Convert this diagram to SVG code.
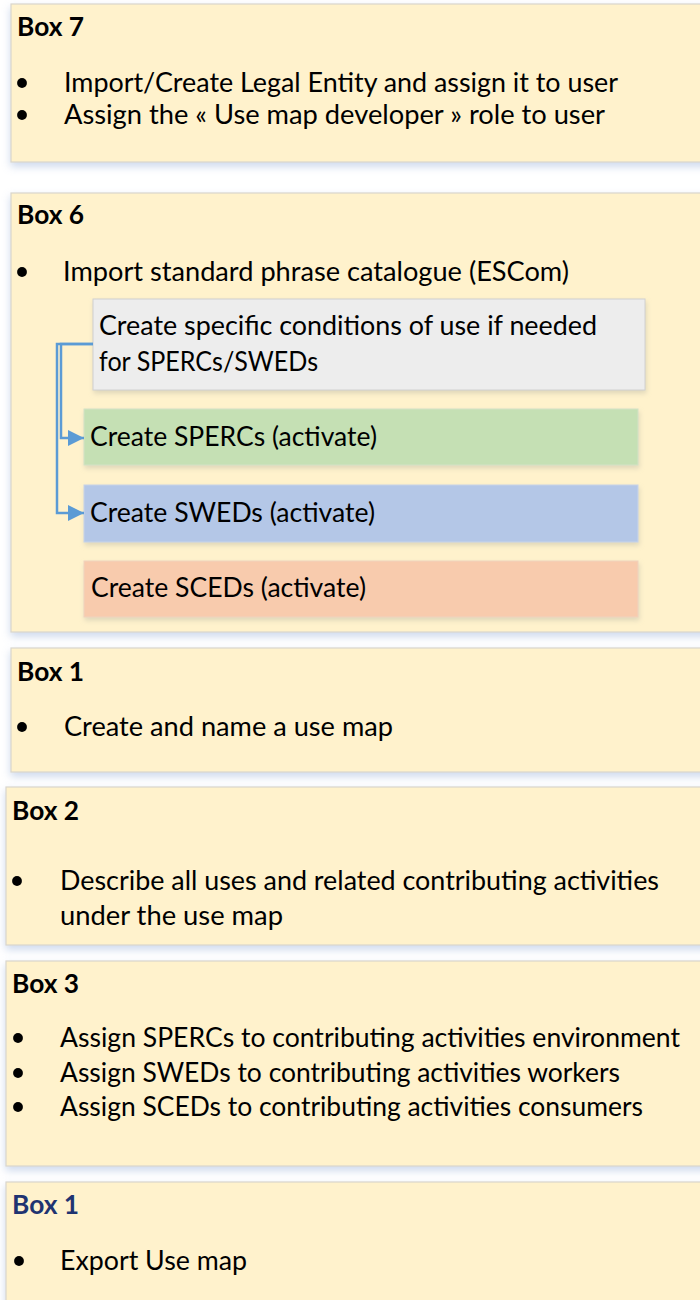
<svg xmlns="http://www.w3.org/2000/svg" width="700" height="1300" viewBox="0 0 700 1300">
  <style>
    .box { fill: #FFF2CC; stroke: #D9D6CC; stroke-width: 1.2; filter: url(#shadow); }
    .sub { stroke-width: 1; filter: url(#shadowS); }
    .lbl { font-family: Lato, "Liberation Sans", sans-serif; font-weight: bold; font-size: 26px; fill: #000; }
    .txt { font-family: Lato, "Liberation Sans", sans-serif; font-size: 26px; fill: #000; }
    .dot { fill: #000; }
    .conn { fill: none; stroke: #5B9BD5; stroke-width: 2.5; }
  </style>
  <defs>
    <filter id="shadow" x="-5%" y="-10%" width="110%" height="130%">
      <feDropShadow dx="0" dy="4" stdDeviation="4" flood-color="#8FA9D6" flood-opacity="0.45"/>
    </filter>
    <filter id="shadowS" x="-5%" y="-20%" width="110%" height="150%">
      <feDropShadow dx="1" dy="3" stdDeviation="2.5" flood-color="#B0B0A0" flood-opacity="0.4"/>
    </filter>
    <marker id="arr" markerUnits="userSpaceOnUse" viewBox="0 0 10 10" refX="10" refY="5" markerWidth="16" markerHeight="16" orient="auto">
      <path d="M0,0 L10,5 L0,10 z" fill="#5B9BD5"/>
    </marker>
  </defs>

  <rect width="700" height="1300" fill="#FFFFFF"/>

  <g id="box7">
    <rect class="box" x="11" y="4" width="700" height="158"/>
    <text class="lbl" x="17" y="36" textLength="67" lengthAdjust="spacingAndGlyphs">Box 7</text>
    <circle class="dot" cx="22" cy="83" r="4.9"/>
    <text class="txt" x="64" y="92" textLength="554" lengthAdjust="spacingAndGlyphs">Import/Create Legal Entity and assign it to user</text>
    <circle class="dot" cx="22" cy="115" r="4.9"/>
    <text class="txt" x="64" y="124" textLength="541" lengthAdjust="spacingAndGlyphs">Assign the « Use map developer » role to user</text>
  </g>

  <g id="box6">
    <rect class="box" x="11" y="193" width="700" height="439"/>
    <text class="lbl" x="17" y="224" textLength="67" lengthAdjust="spacingAndGlyphs">Box 6</text>
    <circle class="dot" cx="22" cy="272" r="4.9"/>
    <text class="txt" x="63" y="281" textLength="506" lengthAdjust="spacingAndGlyphs">Import standard phrase catalogue (ESCom)</text>
  </g>

  <g id="conditions">
    <rect class="sub" x="93" y="299" width="552" height="91" fill="#EDEDED" stroke="#D0D0D0"/>
    <text class="txt" x="99" y="335" textLength="498" lengthAdjust="spacingAndGlyphs">Create specific conditions of use if needed</text>
    <text class="txt" x="99" y="371" textLength="219" lengthAdjust="spacingAndGlyphs">for SPERCs/SWEDs</text>
  </g>

  <g id="spercs">
    <rect class="sub" x="84" y="409" width="554" height="56" fill="#C5E0B4" stroke="#D3E2C6"/>
    <text class="txt" x="90" y="446" textLength="287" lengthAdjust="spacingAndGlyphs">Create SPERCs (activate)</text>
  </g>

  <g id="sweds">
    <rect class="sub" x="84" y="485" width="554" height="57" fill="#B4C7E7" stroke="#C8D4E8"/>
    <text class="txt" x="90" y="522" textLength="285" lengthAdjust="spacingAndGlyphs">Create SWEDs (activate)</text>
  </g>

  <g id="sceds">
    <rect class="sub" x="84" y="561" width="554" height="56" fill="#F8CBAD" stroke="#EFD3BE"/>
    <text class="txt" x="91" y="597" textLength="275" lengthAdjust="spacingAndGlyphs">Create SCEDs (activate)</text>
  </g>

  <g id="box1a">
    <rect class="box" x="11" y="648" width="700" height="124"/>
    <text class="lbl" x="17" y="681" textLength="67" lengthAdjust="spacingAndGlyphs">Box 1</text>
    <circle class="dot" cx="22" cy="727" r="4.9"/>
    <text class="txt" x="64" y="736" textLength="329" lengthAdjust="spacingAndGlyphs">Create and name a use map</text>
  </g>

  <g id="box2">
    <rect class="box" x="6" y="787" width="705" height="158"/>
    <text class="lbl" x="12" y="820" textLength="67" lengthAdjust="spacingAndGlyphs">Box 2</text>
    <circle class="dot" cx="17" cy="881" r="4.9"/>
    <text class="txt" x="60" y="890" textLength="599" lengthAdjust="spacingAndGlyphs">Describe all uses and related contributing activities</text>
    <text class="txt" x="60" y="925" textLength="223" lengthAdjust="spacingAndGlyphs">under the use map</text>
  </g>

  <g id="box3">
    <rect class="box" x="6" y="961" width="705" height="205"/>
    <text class="lbl" x="12" y="993" textLength="67" lengthAdjust="spacingAndGlyphs">Box 3</text>
    <circle class="dot" cx="18" cy="1038" r="4.9"/>
    <text class="txt" x="60" y="1047" textLength="620" lengthAdjust="spacingAndGlyphs">Assign SPERCs to contributing activities environment</text>
    <circle class="dot" cx="18" cy="1073" r="4.9"/>
    <text class="txt" x="60" y="1082" textLength="560" lengthAdjust="spacingAndGlyphs">Assign SWEDs to contributing activities workers</text>
    <circle class="dot" cx="18" cy="1107" r="4.9"/>
    <text class="txt" x="60" y="1116" textLength="583" lengthAdjust="spacingAndGlyphs">Assign SCEDs to contributing activities consumers</text>
  </g>

  <g id="box1b">
    <rect class="box" x="6" y="1182" width="705" height="140"/>
    <text class="lbl" x="12" y="1214" textLength="67" lengthAdjust="spacingAndGlyphs" style="fill:#1F3471">Box 1</text>
    <circle class="dot" cx="19" cy="1261" r="4.9"/>
    <text class="txt" x="60" y="1270" textLength="187" lengthAdjust="spacingAndGlyphs">Export Use map</text>
  </g>

  <g id="connectors">
    <path class="conn" d="M93,344 H61 V438 H84" marker-end="url(#arr)"/>
    <path class="conn" d="M93,344 H57 V513 H84" marker-end="url(#arr)"/>
  </g>
</svg>
